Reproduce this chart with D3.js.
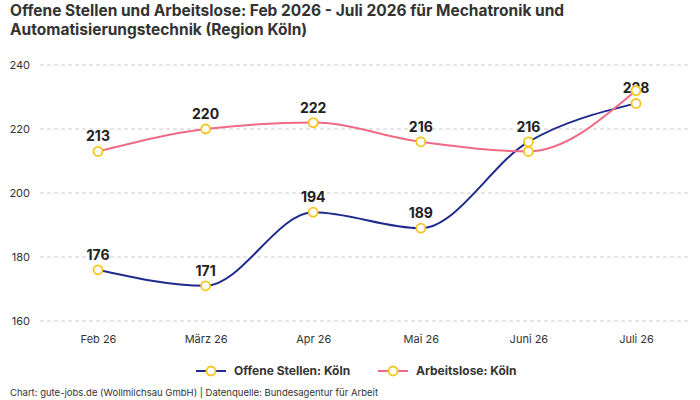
<!DOCTYPE html>
<html><head><meta charset="utf-8">
<script src="https://cdn.jsdelivr.net/npm/d3@7"></script>
<style>body{margin:0;background:#fff;font-family:"Inter","Roboto",sans-serif}</style>
</head><body><div id="chart"></div>
<script>
// Data
const months = ["Feb 26", "März 26", "Apr 26", "Mai 26", "Juni 26", "Juli 26"];
const offeneStellen = [176, 171, 194, 189, 216, 228];
const arbeitslose = [213, 220, 222, 216, 213, 232];
const yTicks = [160, 180, 200, 220, 240];
const showArbLabel = [true, true, true, true, false, false];

const width = 700, height = 400;
const svg = d3.select("#chart").append("svg").attr("width", width).attr("height", height);

svg.append("text").attr("x", 10).attr("y", 16).attr("font-size", 15.5).attr("font-weight", 700).attr("fill", "#333")
    .text("Offene Stellen und Arbeitslose: Feb 2026 - Juli 2026 für Mechatronik und");
svg.append("text").attr("x", 10).attr("y", 35).attr("font-size", 15.5).attr("font-weight", 700).attr("fill", "#333")
    .text("Automatisierungstechnik (Region Köln)");

const x = d3.scalePoint().domain(months).range([98, 636]);
const y = d3.scaleLinear().domain([160, 240]).range([321, 65]);

// Grid
svg.append("g").selectAll("line").data(yTicks).enter().append("line")
    .attr("x1", 40).attr("x2", 690)
    .attr("y1", d => y(d)).attr("y2", d => y(d))
    .attr("stroke", "#ccc").attr("stroke-dasharray", "4,3");
svg.append("g").selectAll("text").data(yTicks).enter().append("text")
    .attr("x", 30).attr("y", d => y(d) + 4).attr("text-anchor", "end")
    .attr("font-size", 11).attr("fill", "#333").text(d => d);

const xAxis = svg.append("g").attr("transform", "translate(0,321)")
    .call(d3.axisBottom(x).tickSize(0).tickPadding(14));
xAxis.select(".domain").remove();
xAxis.selectAll("text").attr("font-size", 11).attr("fill", "#333").style("font-family", "Inter, Roboto, sans-serif");

const series = [
    { name: "Offene Stellen: Köln", values: offeneStellen, color: "#1f2a8c", labels: months.map(() => true) },
    { name: "Arbeitslose: Köln", values: arbeitslose, color: "#f06a85", labels: showArbLabel }
];

const line = d3.line().x((d, i) => x(months[i])).y(d => y(d)).curve(d3.curveMonotoneX);

series.forEach(s => {
    svg.append("path").datum(s.values).attr("d", line)
        .attr("fill", "none").attr("stroke", s.color).attr("stroke-width", 2);
});
series.forEach(s => {
    svg.append("g").selectAll("circle").data(s.values).enter().append("circle")
        .attr("cx", (d, i) => x(months[i])).attr("cy", d => y(d)).attr("r", 4.5)
        .attr("fill", "#fff").attr("stroke", "#f5c518").attr("stroke-width", 1.8);
    svg.append("g").selectAll("text").data(s.values).enter().append("text")
        .filter((d, i) => s.labels[i])
        .attr("x", (d, i) => x(months[i])).attr("y", d => y(d) - 10)
        .attr("text-anchor", "middle").attr("font-size", 14).attr("font-weight", 700)
        .attr("fill", "#222").text(d => d);
});

// Legend
const legend = svg.append("g").attr("transform", "translate(0,371)");
const legX = [196, 378];
series.forEach((s, i) => {
    const g = legend.append("g").attr("transform", `translate(${legX[i]},0)`);
    g.append("line").attr("x1", 0).attr("x2", 30).attr("stroke", s.color).attr("stroke-width", 2);
    g.append("circle").attr("cx", 15).attr("r", 4.5).attr("fill", "#fff").attr("stroke", "#f5c518").attr("stroke-width", 1.8);
    g.append("text").attr("x", 38).attr("y", 4).attr("font-size", 12).attr("font-weight", 700).attr("fill", "#333").text(s.name);
});

svg.append("text").attr("x", 10).attr("y", 396).attr("font-size", 9.5).attr("fill", "#333")
    .text("Chart: gute-jobs.de (Wollmilchsau GmbH) | Datenquelle: Bundesagentur für Arbeit");
</script>
</body></html>
